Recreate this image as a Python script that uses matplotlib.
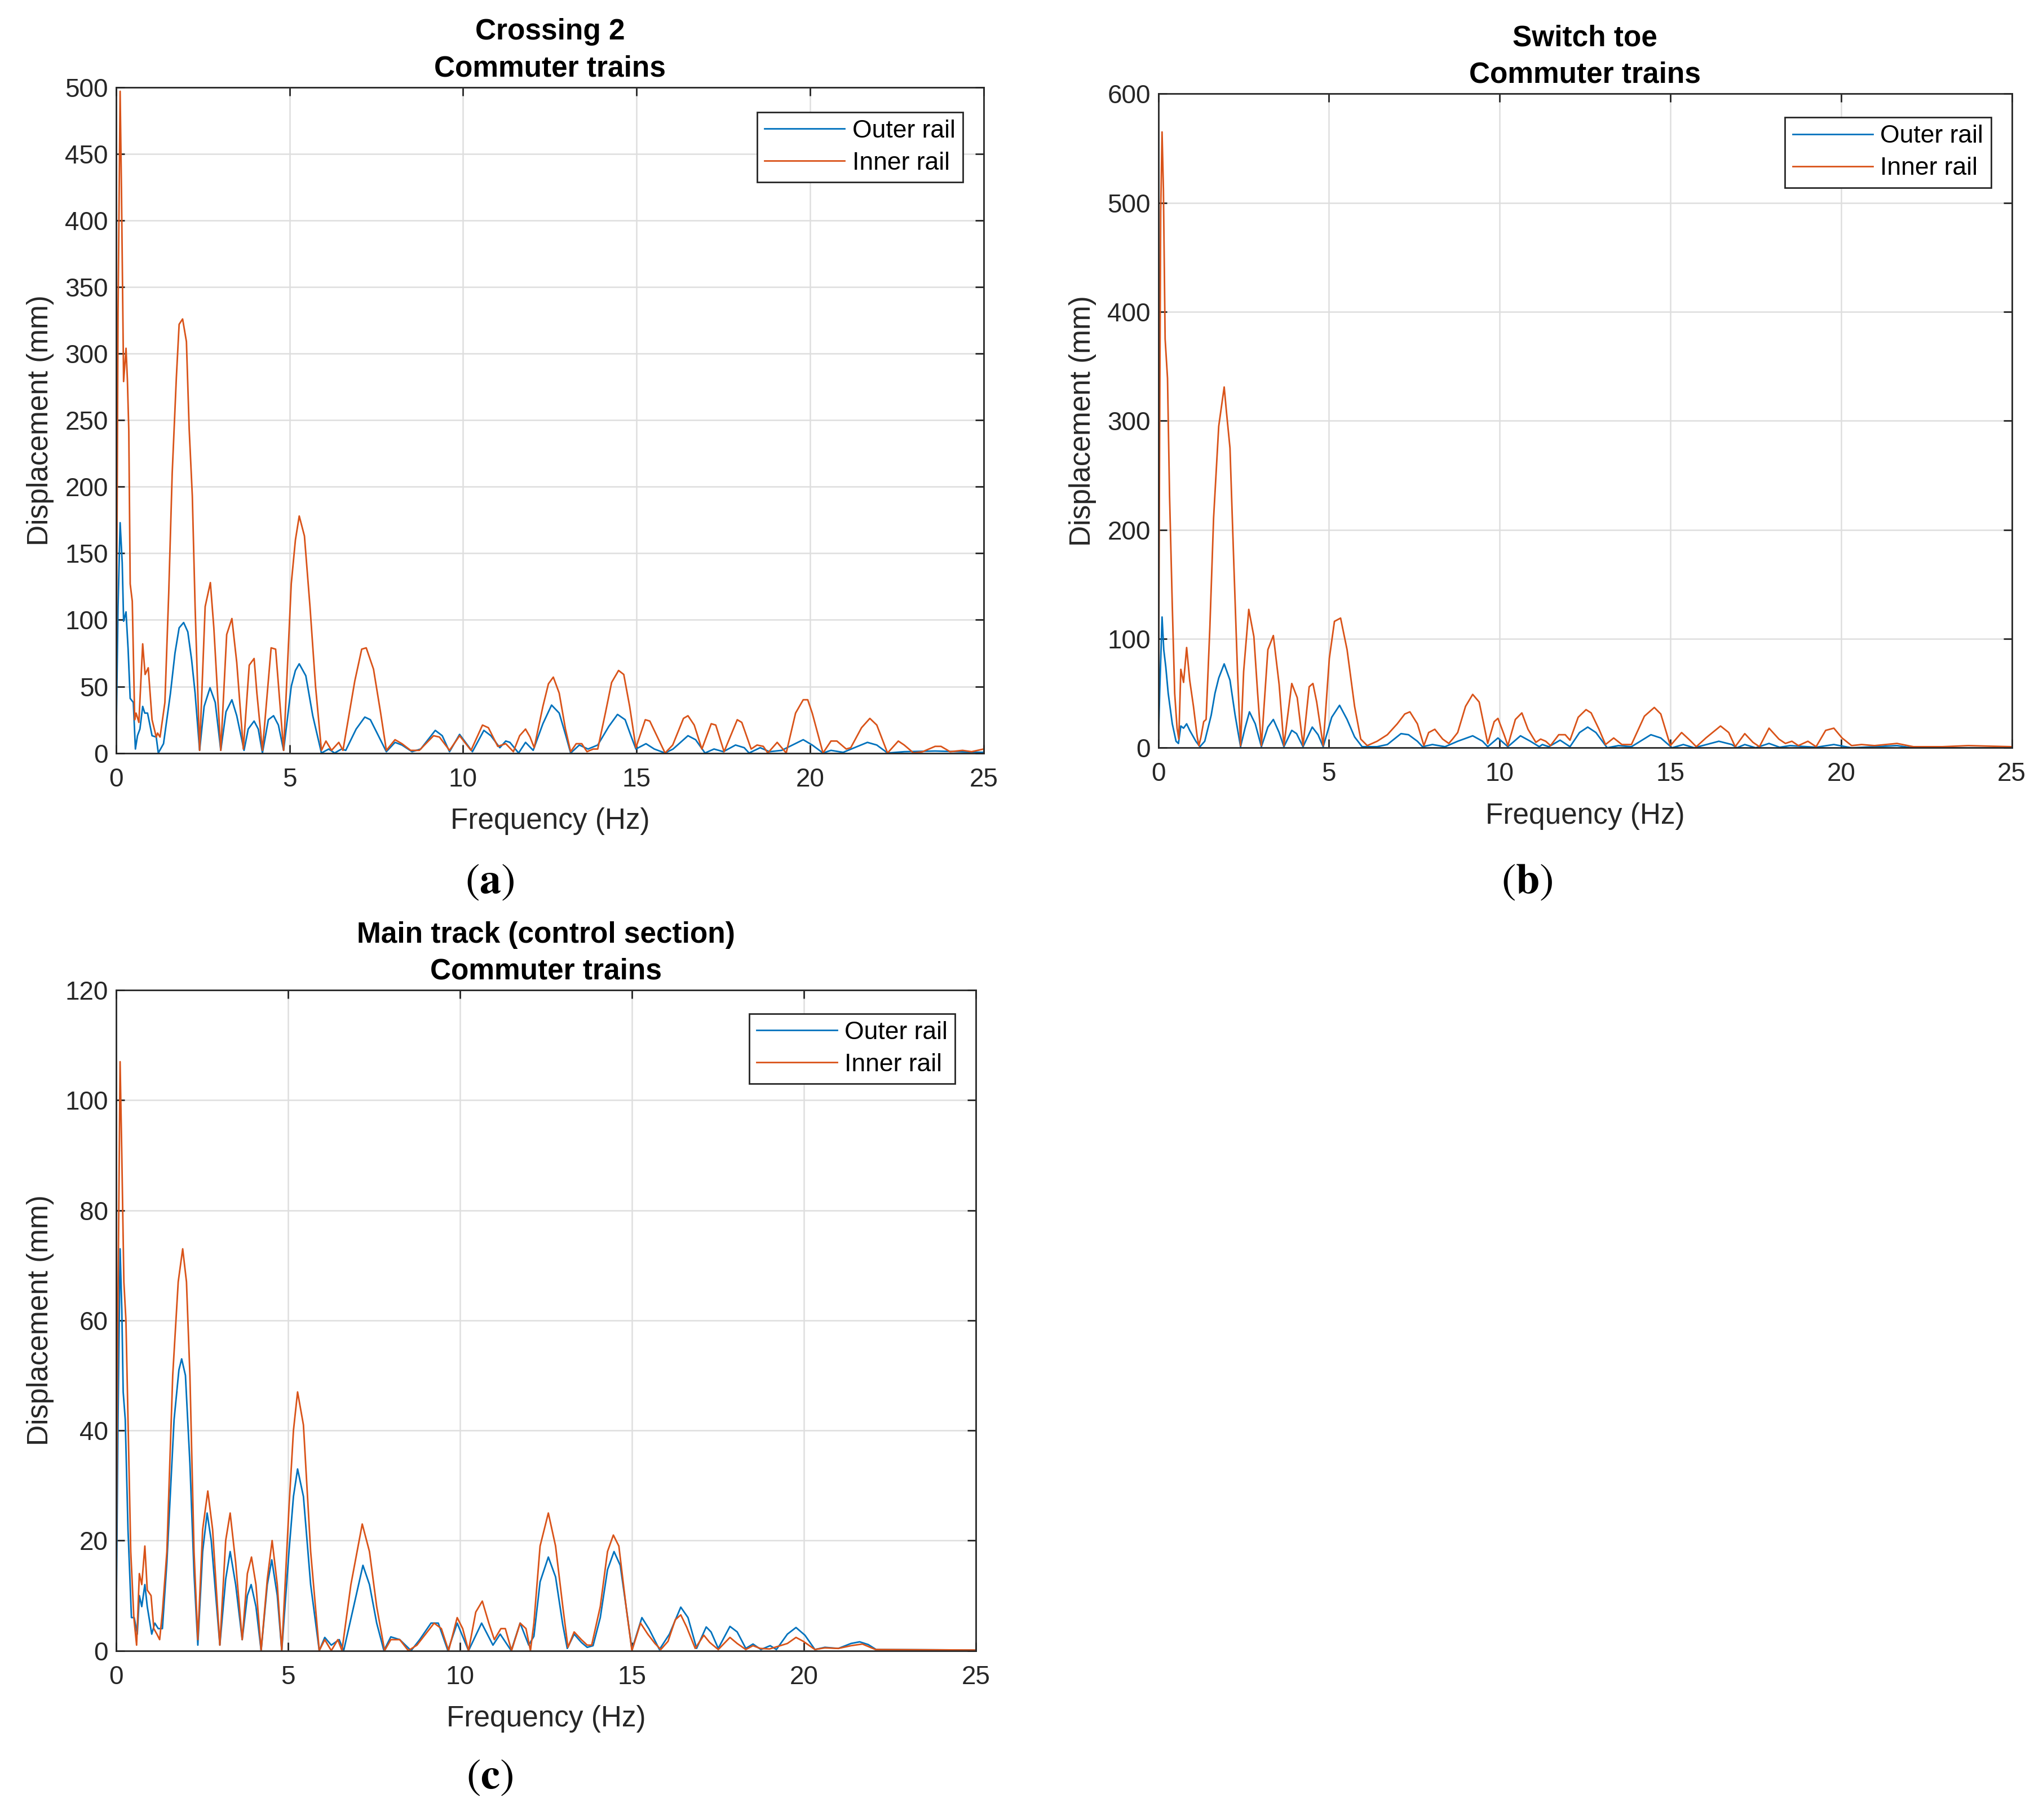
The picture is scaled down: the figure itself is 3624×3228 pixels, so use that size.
import matplotlib
matplotlib.use("Agg")
import matplotlib.pyplot as plt

plt.rcParams['font.family'] = ['Liberation Sans', 'DejaVu Sans']
plt.rcParams['mathtext.fontset'] = 'stix'

# ---- data (frequency Hz, displacement mm) ----
crossing_outer = [
    (0, 0), (0.06, 110), (0.12, 173), (0.18, 143), (0.22, 99), (0.29, 106), (0.35, 78), (0.41, 41),
    (0.5, 38), (0.56, 3), (0.62, 13), (0.69, 18), (0.77, 35), (0.83, 30), (0.91, 30), (1.04, 13),
    (1.16, 12), (1.22, 0), (1.37, 7), (1.57, 45), (1.7, 75), (1.82, 94), (1.95, 98), (2.07, 91),
    (2.18, 70), (2.28, 45), (2.41, 2), (2.54, 35), (2.71, 49), (2.86, 38), (3.02, 2), (3.17, 31),
    (3.34, 40), (3.48, 28), (3.69, 2), (3.81, 18), (3.98, 24), (4.1, 18), (4.22, 0), (4.39, 25),
    (4.54, 28), (4.68, 21), (4.83, 2), (5.05, 50), (5.17, 62), (5.28, 67), (5.47, 58), (5.67, 28),
    (5.92, 0), (6.13, 3), (6.3, 0), (6.5, 3), (6.62, 2), (6.92, 18), (7.17, 27), (7.33, 25),
    (7.58, 12), (7.79, 1), (8.04, 8), (8.24, 6), (8.53, 1), (8.78, 3), (9.2, 17), (9.4, 13),
    (9.61, 1), (9.9, 14), (10.27, 1), (10.6, 17), (10.8, 13), (11.06, 4), (11.23, 9), (11.35, 8),
    (11.6, 0), (11.8, 8), (12.02, 2), (12.3, 22), (12.55, 36), (12.77, 30), (12.95, 14), (13.1, 0),
    (13.35, 6), (13.6, 3), (13.88, 6), (14.2, 20), (14.45, 29), (14.67, 25), (14.85, 12), (14.98, 3),
    (15.27, 7), (15.51, 3), (15.82, 0), (16.05, 3), (16.48, 13), (16.7, 10), (16.97, 0), (17.23, 3),
    (17.5, 1), (17.85, 6), (18.1, 4), (18.24, 0), (18.56, 4), (18.83, 1), (19.18, 2), (19.8, 10),
    (20.06, 6), (20.37, 0), (20.6, 2), (20.95, 0.5), (21.65, 8), (21.92, 6), (22.23, 0), (22.71, 1),
    (23.6, 1.5), (25, 0.5),
]
crossing_inner = [
    (0, 0), (0.06, 330), (0.12, 497), (0.16, 420), (0.22, 279), (0.29, 304), (0.33, 280), (0.37, 242),
    (0.41, 127), (0.47, 114), (0.54, 25), (0.58, 30), (0.66, 23), (0.77, 82), (0.84, 59), (0.93, 64),
    (1.04, 25), (1.16, 12), (1.2, 15), (1.27, 12), (1.41, 38), (1.52, 120), (1.62, 210), (1.74, 282),
    (1.82, 322), (1.92, 326), (2.03, 309), (2.11, 243), (2.2, 193), (2.28, 110), (2.41, 2), (2.57, 110),
    (2.72, 128), (2.82, 94), (3.02, 2), (3.19, 89), (3.34, 101), (3.48, 68), (3.67, 3), (3.84, 66),
    (3.98, 71), (4.06, 45), (4.22, 2), (4.47, 79), (4.6, 78), (4.83, 2), (5.05, 127), (5.17, 160),
    (5.28, 178), (5.43, 163), (5.59, 110), (5.75, 50), (5.92, 2), (6.05, 9), (6.21, 2), (6.42, 8),
    (6.54, 2), (6.88, 54), (7.08, 78), (7.21, 79), (7.42, 63), (7.62, 31), (7.79, 2), (8.04, 10),
    (8.24, 7), (8.49, 2), (8.74, 2), (9.15, 13), (9.32, 12), (9.61, 2), (9.9, 13), (10.23, 2),
    (10.56, 21), (10.73, 19), (11.0, 5), (11.23, 7), (11.45, 1), (11.63, 13), (11.8, 18), (11.93, 12),
    (12.05, 4), (12.3, 35), (12.46, 52), (12.6, 57), (12.77, 45), (12.95, 18), (13.1, 1), (13.26, 7),
    (13.42, 7), (13.57, 1), (13.75, 3), (13.88, 3), (14.1, 30), (14.28, 53), (14.48, 62), (14.63, 59),
    (14.8, 35), (14.98, 4), (15.25, 25), (15.38, 24), (15.6, 12), (15.82, 0), (16.04, 6), (16.35, 26),
    (16.48, 28), (16.66, 21), (16.88, 3), (17.15, 22), (17.28, 21), (17.52, 1), (17.9, 25), (18.03, 23),
    (18.3, 3), (18.47, 6), (18.65, 5), (18.78, 0), (19.05, 8), (19.31, 0), (19.58, 30), (19.8, 40),
    (19.93, 40), (20.06, 30), (20.37, 0), (20.6, 9), (20.77, 9), (21.04, 3), (21.17, 4), (21.48, 19),
    (21.72, 26), (21.92, 21), (22.23, 0), (22.54, 9), (22.71, 6), (22.98, 0), (23.24, 1), (23.6, 5),
    (23.77, 5), (24.03, 1), (24.39, 2), (24.65, 1), (25, 3),
]

switch_outer = [
    (0, 0), (0.04, 50), (0.11, 120), (0.16, 90), (0.22, 74), (0.29, 50), (0.41, 22), (0.52, 6),
    (0.59, 4), (0.66, 20), (0.74, 18), (0.83, 22), (0.92, 16), (1.1, 6), (1.22, 1), (1.36, 6),
    (1.55, 30), (1.66, 50), (1.77, 64), (1.93, 77), (2.1, 62), (2.25, 30), (2.41, 1), (2.54, 18),
    (2.67, 33), (2.84, 22), (3.02, 1), (3.21, 19), (3.37, 26), (3.54, 14), (3.68, 1), (3.91, 16),
    (4.05, 13), (4.24, 1), (4.51, 19), (4.68, 12), (4.83, 1), (5.08, 28), (5.31, 39), (5.53, 26),
    (5.75, 10), (5.97, 1), (6.41, 1), (6.71, 3), (7.11, 13), (7.33, 12), (7.59, 6), (7.74, 1),
    (8.03, 3), (8.4, 1), (8.77, 6), (9.21, 11), (9.5, 6), (9.65, 1), (9.95, 9), (10.24, 1),
    (10.61, 11), (10.9, 6), (11.16, 1), (11.25, 3), (11.44, 1), (11.77, 7), (12.06, 1), (12.34, 14),
    (12.58, 19), (12.82, 14), (13.15, 0), (13.48, 2), (13.86, 1), (14.43, 12), (14.72, 9), (15.05, 0),
    (15.38, 3), (15.7, 0), (16.42, 6), (16.8, 3), (16.95, 0), (17.18, 3), (17.5, 0), (17.89, 4),
    (18.2, 0.5), (18.51, 2), (19.27, 0.5), (19.79, 3), (20.31, 0), (21.64, 2), (22.1, 0), (25, 0),
]
switch_inner = [
    (0, 0), (0.04, 291), (0.07, 492), (0.11, 565), (0.15, 512), (0.2, 375), (0.27, 339), (0.33, 231),
    (0.41, 130), (0.48, 50), (0.55, 18), (0.6, 8), (0.66, 72), (0.74, 60), (0.83, 92), (0.92, 62),
    (1.03, 38), (1.14, 10), (1.19, 2), (1.25, 10), (1.33, 24), (1.4, 26), (1.51, 110), (1.62, 211),
    (1.77, 295), (1.93, 331), (2.0, 307), (2.1, 275), (2.21, 171), (2.32, 70), (2.41, 2), (2.5, 70),
    (2.65, 127), (2.8, 102), (2.91, 50), (3.02, 2), (3.21, 90), (3.37, 103), (3.54, 58), (3.68, 2),
    (3.91, 59), (4.07, 46), (4.24, 2), (4.42, 56), (4.53, 59), (4.64, 42), (4.83, 2), (5.01, 82),
    (5.16, 116), (5.34, 119), (5.53, 90), (5.75, 38), (5.93, 8), (6.12, 2), (6.41, 6), (6.71, 12),
    (7.0, 22), (7.22, 31), (7.37, 33), (7.59, 22), (7.78, 2), (7.92, 14), (8.1, 17), (8.33, 8),
    (8.51, 4), (8.62, 8), (8.77, 14), (9.0, 38), (9.21, 49), (9.4, 42), (9.65, 4), (9.84, 24),
    (9.95, 27), (10.13, 12), (10.24, 2), (10.46, 26), (10.65, 32), (10.83, 17), (11.06, 5), (11.2, 8),
    (11.35, 6), (11.49, 2), (11.73, 12), (11.92, 12), (12.06, 7), (12.3, 28), (12.53, 35), (12.68, 32),
    (12.91, 17), (13.1, 3), (13.34, 9), (13.58, 3), (13.86, 3), (14.24, 29), (14.53, 37), (14.72, 31),
    (15.0, 2), (15.33, 14), (15.57, 7), (15.76, 1), (16.04, 9), (16.47, 20), (16.71, 14), (16.9, 1),
    (17.18, 13), (17.42, 5), (17.61, 1), (17.89, 18), (18.18, 8), (18.37, 4), (18.56, 6), (18.75, 2),
    (19.03, 6), (19.27, 1), (19.55, 16), (19.79, 18), (20.03, 9), (20.31, 2), (20.6, 3), (20.98, 2),
    (21.64, 4), (22.12, 1), (22.97, 1), (23.73, 2), (25, 1),
]

main_outer = [
    (0, 0), (0.06, 42), (0.12, 73), (0.17, 62), (0.21, 47), (0.27, 42), (0.35, 22), (0.45, 6),
    (0.53, 6), (0.62, 3), (0.68, 10), (0.75, 8), (0.84, 12), (0.91, 8), (1.04, 3), (1.13, 5),
    (1.23, 4), (1.35, 4), (1.48, 16), (1.69, 42), (1.83, 51), (1.91, 53), (2.02, 50), (2.15, 34),
    (2.27, 14), (2.38, 1), (2.52, 18), (2.65, 25), (2.77, 20), (3.02, 1), (3.19, 13), (3.32, 18),
    (3.48, 12), (3.67, 2), (3.82, 10), (3.93, 12), (4.07, 8), (4.22, 0), (4.4, 12), (4.53, 16.5),
    (4.69, 10), (4.82, 0), (5.03, 18), (5.16, 28), (5.28, 33), (5.45, 28), (5.66, 12), (5.91, 0),
    (6.07, 2.4), (6.26, 1), (6.49, 2), (6.62, 0), (6.91, 8), (7.18, 15.5), (7.37, 12), (7.58, 5),
    (7.79, 0), (7.99, 2.5), (8.25, 2), (8.58, 0), (8.83, 2), (9.16, 5), (9.37, 5), (9.65, 0),
    (9.92, 5), (10.25, 0), (10.63, 5), (10.96, 1), (11.17, 3), (11.49, 0), (11.75, 5), (12.0, 1),
    (12.15, 2.6), (12.33, 12.5), (12.57, 17), (12.78, 13.4), (12.99, 4.7), (13.12, 0.4), (13.32, 3),
    (13.53, 1.5), (13.7, 0.6), (13.87, 0.9), (14.08, 6), (14.29, 14.7), (14.48, 18), (14.66, 15.5),
    (14.83, 8), (15.0, 0.2), (15.29, 6), (15.5, 3.9), (15.8, 0.2), (16.09, 3), (16.42, 7.9),
    (16.63, 6), (16.88, 0.4), (17.16, 4.3), (17.3, 3.4), (17.51, 0.4), (17.85, 4.4), (18.06, 3.4),
    (18.31, 0.4), (18.52, 1.2), (18.75, 0.2), (19.02, 0.9), (19.2, 0.2), (19.52, 3), (19.77, 4.2),
    (20.03, 2.8), (20.32, 0.2), (20.61, 0.6), (21.0, 0.4), (21.37, 1.3), (21.62, 1.6), (21.87, 1.1),
    (22.1, 0.2), (25, 0.1),
]
main_inner = [
    (0, 0), (0.04, 50), (0.12, 107), (0.17, 90), (0.23, 67), (0.29, 60), (0.35, 42), (0.43, 18),
    (0.52, 6), (0.6, 1), (0.68, 14), (0.75, 12), (0.84, 19), (0.91, 11), (1.02, 10), (1.1, 4),
    (1.19, 3), (1.27, 2), (1.35, 7), (1.48, 18), (1.65, 50), (1.81, 67), (1.94, 73), (2.05, 67),
    (2.15, 50), (2.27, 18), (2.38, 2), (2.52, 22), (2.67, 29), (2.81, 22), (3.02, 1), (3.19, 20),
    (3.32, 25), (3.48, 16), (3.67, 2), (3.82, 14), (3.94, 17), (4.07, 12), (4.22, 0), (4.4, 13),
    (4.54, 20), (4.69, 12), (4.82, 0), (5.03, 26), (5.16, 40), (5.28, 47), (5.45, 41), (5.66, 18),
    (5.91, 0), (6.07, 2), (6.26, 0), (6.45, 2), (6.57, 0), (6.83, 12), (7.16, 23), (7.37, 18),
    (7.58, 8), (7.81, 0), (7.99, 2), (8.25, 2), (8.5, 0), (8.75, 1), (9.0, 3), (9.25, 5),
    (9.46, 4), (9.67, 0), (9.92, 6), (10.08, 4), (10.25, 0), (10.46, 7), (10.65, 9), (10.84, 5),
    (11.0, 2), (11.19, 4), (11.32, 4), (11.5, 0), (11.75, 5), (11.92, 4), (12.05, 0), (12.15, 5),
    (12.33, 19), (12.57, 25), (12.78, 19), (12.99, 8), (13.14, 0.6), (13.32, 3.4), (13.53, 2),
    (13.7, 1), (13.83, 1), (14.08, 8), (14.29, 18), (14.46, 21), (14.62, 19), (14.83, 8), (15.0, 0),
    (15.25, 5), (15.46, 3), (15.67, 1.3), (15.84, 0.2), (16.05, 1.7), (16.26, 5.6), (16.42, 6.5),
    (16.59, 4.3), (16.84, 0.4), (17.09, 2.8), (17.26, 1.5), (17.51, 0.2), (17.85, 2.4), (18.06, 1.3),
    (18.31, 0.2), (18.52, 0.9), (18.73, 0.4), (19.0, 0.3), (19.52, 1.3), (19.77, 2.4), (19.98, 1.7),
    (20.32, 0.2), (20.61, 0.5), (21.0, 0.4), (21.37, 0.9), (21.7, 1.2), (22.08, 0.2), (25, 0.1),
]

titles = ["Crossing 2\nCommuter trains", "Switch toe\nCommuter trains",
          "Main track (control section)\nCommuter trains"]
y_limits = [500, 600, 120]
y_steps = [50, 100, 20]
panel_tags = ["a", "b", "c"]
x_ticks = [0, 5, 10, 15, 20, 25]

BLUE = "#0072BD"
ORANGE = "#D95319"
AXCOL = "#262626"

fig = plt.figure(figsize=(36.24, 32.28), dpi=100)
rects = [
    [0.05676, 0.58625, 0.42474, 0.36579],
    [0.56696, 0.58912, 0.41773, 0.35934],
    [0.05676, 0.09306, 0.42092, 0.36292],
]
legend_anchor = [(0.976, 0.963), (0.9756, 0.964), (0.9758, 0.9645)]
tag_pos = [(0.2398, 0.5154), (0.7474, 0.5154), (0.2398, 0.0236)]
series = [(crossing_outer, crossing_inner), (switch_outer, switch_inner), (main_outer, main_inner)]

for i in range(3):
    ax = fig.add_axes(rects[i])
    outer, inner = series[i]
    fo, vo = zip(*outer)
    fi, vi = zip(*inner)
    ax.plot(fo, vo, color=BLUE, lw=2.0, label="Outer rail")
    ax.plot(fi, vi, color=ORANGE, lw=2.0, label="Inner rail")

    ax.set_xlim(0, 25)
    ax.set_ylim(0, y_limits[i])
    ax.set_xticks(x_ticks)
    ax.set_yticks(list(range(0, y_limits[i] + 1, y_steps[i])))
    ax.grid(True, color="#dedede", lw=1.8)
    ax.set_axisbelow(True)
    for s in ax.spines.values():
        s.set_color(AXCOL)
        s.set_linewidth(2.0)
    ax.tick_params(direction="in", top=True, right=True, length=11, width=2.0,
                   color=AXCOL, labelcolor="#262626", labelsize=33)
    ax.tick_params(axis="y", pad=10)
    ax.tick_params(axis="x", pad=18)

    ax.set_xlabel("Frequency (Hz)", fontsize=37, color="#262626", labelpad=20)
    ax.set_ylabel("Displacement (mm)", fontsize=37, color="#262626", labelpad=14)
    ax.set_title(titles[i], fontsize=37, fontweight="bold", color="black", pad=14, linespacing=1.42)

    leg = ax.legend(loc="upper right", bbox_to_anchor=legend_anchor[i], borderaxespad=0,
                    fontsize=32, fancybox=False, framealpha=1, edgecolor=AXCOL,
                    handlelength=3.2, handletextpad=0.3, labelspacing=0.36, borderpad=0.3)
    leg.get_frame().set_linewidth(2.0)

    fig.text(tag_pos[i][0], tag_pos[i][1], r"$(\mathbf{%s})$" % panel_tags[i],
             fontsize=55, ha="center", va="center")

fig.savefig("out.png", dpi=100, facecolor="white")
